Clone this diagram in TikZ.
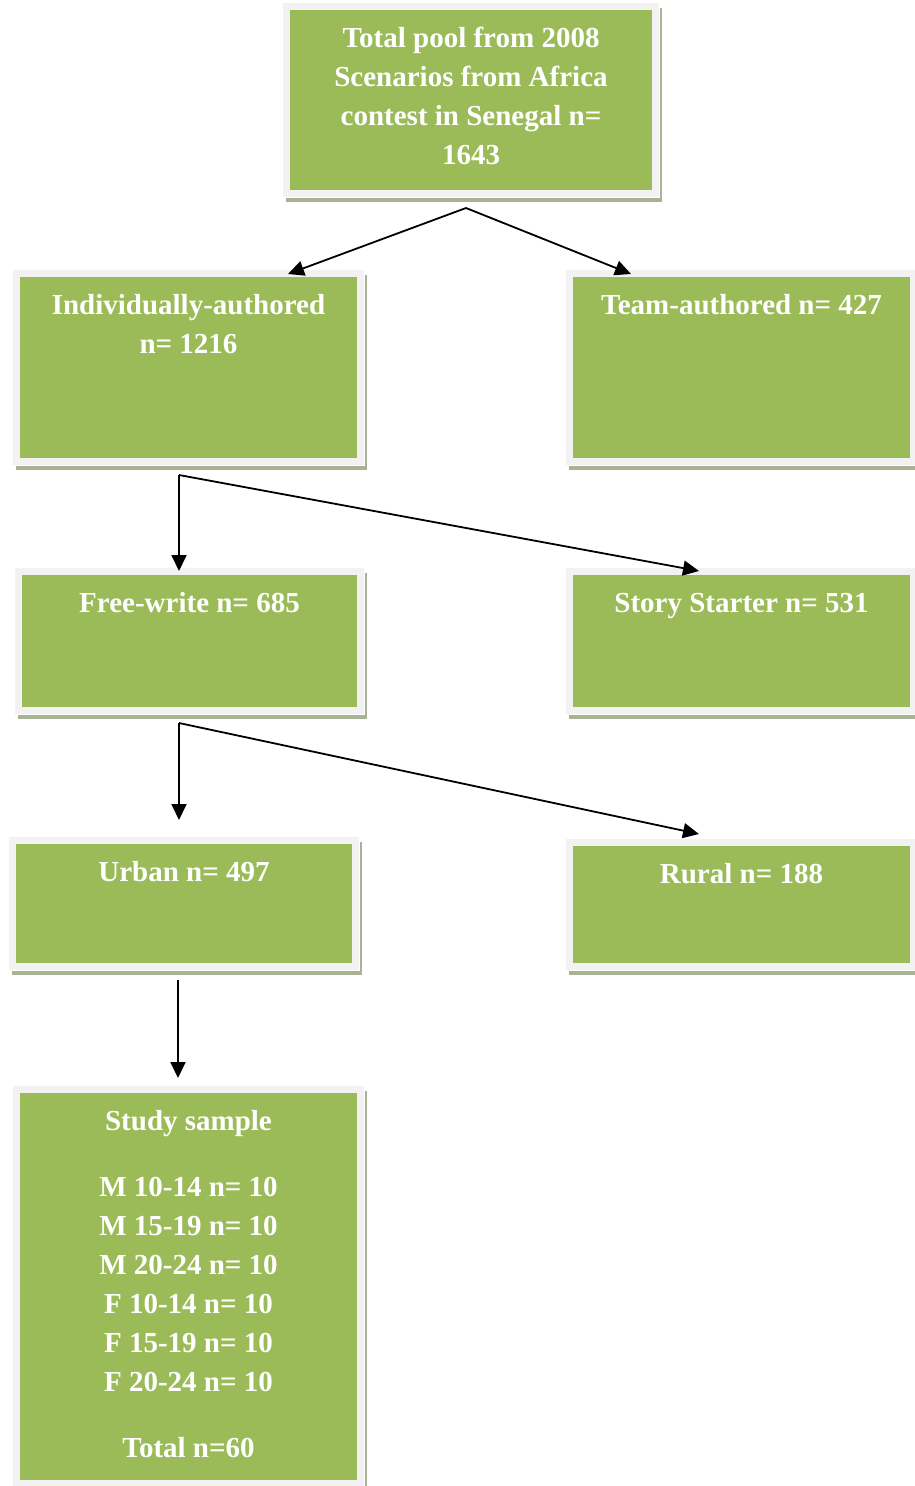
\documentclass[tikz,border=0pt]{standalone}
\usepackage{fontspec}
\setmainfont{Liberation Serif}
\usetikzlibrary{arrows.meta,backgrounds}
\definecolor{boxgreen}{HTML}{9BBB59}
\definecolor{framegray}{HTML}{F2F2F2}
\definecolor{shadowc}{HTML}{A8B396}
\newcommand{\boxcontent}[3]{\parbox[c][#2][t]{#1}{\centering\rule{0pt}{40.5pt}#3}}
\tikzset{
  flowbox/.style={rectangle, fill=boxgreen, draw=framegray, line width=7pt,
    inner sep=0pt, outer sep=3.5pt, anchor=north west, text=white,
    font=\fontsize{29}{39}\selectfont\bfseries},
  arr/.style={draw=black, line width=1.8pt, -{Triangle[length=16pt,width=15pt]}},
  shadowbox/.style={fill=shadowc},
  gapline/.style={draw=white, line width=1.4pt}
}
\newcommand{\boxshadow}[1]{%
  \fill[shadowbox] ([shift={(3pt,-5pt)}]#1.south west) rectangle ([shift={(3pt,-5pt)}]#1.north east);
  \draw[gapline] (#1.south west) rectangle (#1.north east);}
\begin{document}
\begin{tikzpicture}[x=1pt,y=-1pt]
\useasboundingbox (0,0) rectangle (914,1486);
% boxes: position = outer frame top-left
\node[flowbox] (total) at (283,3) {\boxcontent{369pt}{187pt}{Total pool from 2008\\Scenarios from Africa\\contest in Senegal n=\\1643}};
\node[flowbox] (indiv) at (13,270) {\boxcontent{344pt}{188pt}{Individually-authored\\n= 1216}};
\node[flowbox] (team) at (566,270) {\boxcontent{344pt}{188pt}{Team-authored n= 427}};
\node[flowbox] (free) at (15,568) {\boxcontent{342pt}{139pt}{Free-write n= 685}};
\node[flowbox] (story) at (566,568) {\boxcontent{344pt}{139pt}{Story Starter n= 531}};
\node[flowbox] (urban) at (9,837) {\boxcontent{343pt}{126pt}{Urban n= 497}};
\node[flowbox] (rural) at (566,839) {\boxcontent{344pt}{124pt}{Rural n= 188}};
\node[flowbox] (study) at (13,1086) {\boxcontent{344pt}{394pt}{Study sample\\[27pt]M 10-14 n= 10\\M 15-19 n= 10\\M 20-24 n= 10\\F 10-14 n= 10\\F 15-19 n= 10\\F 20-24 n= 10\\[27pt]Total n=60}};
\begin{scope}[on background layer]
  \boxshadow{total}
  \boxshadow{indiv}
  \boxshadow{team}
  \boxshadow{free}
  \boxshadow{story}
  \boxshadow{urban}
  \boxshadow{rural}
  \boxshadow{study}
\end{scope}
% connectors
\coordinate (s1) at (466,208);
\coordinate (s2) at (179,475);
\coordinate (s3) at (179,723);
\coordinate (s4) at (178,980);
\draw[arr] (s1) -- ([shift={(275pt,-4pt)}]indiv.north west);
\draw[arr] (s1) -- ([shift={(65pt,-4pt)}]team.north west);
\draw[arr] (s2) -- ([yshift=-3pt]s2 |- free.north);
\draw[arr] (s2) -- ([shift={(133pt,-3pt)}]story.north west);
\draw[arr] (s3) -- ([yshift=17pt]s3 |- urban.north);
\draw[arr] (s3) -- ([shift={(133pt,5pt)}]rural.north west);
\draw[arr] (s4) -- ([yshift=8pt]s4 |- study.north);
\end{tikzpicture}
\end{document}
